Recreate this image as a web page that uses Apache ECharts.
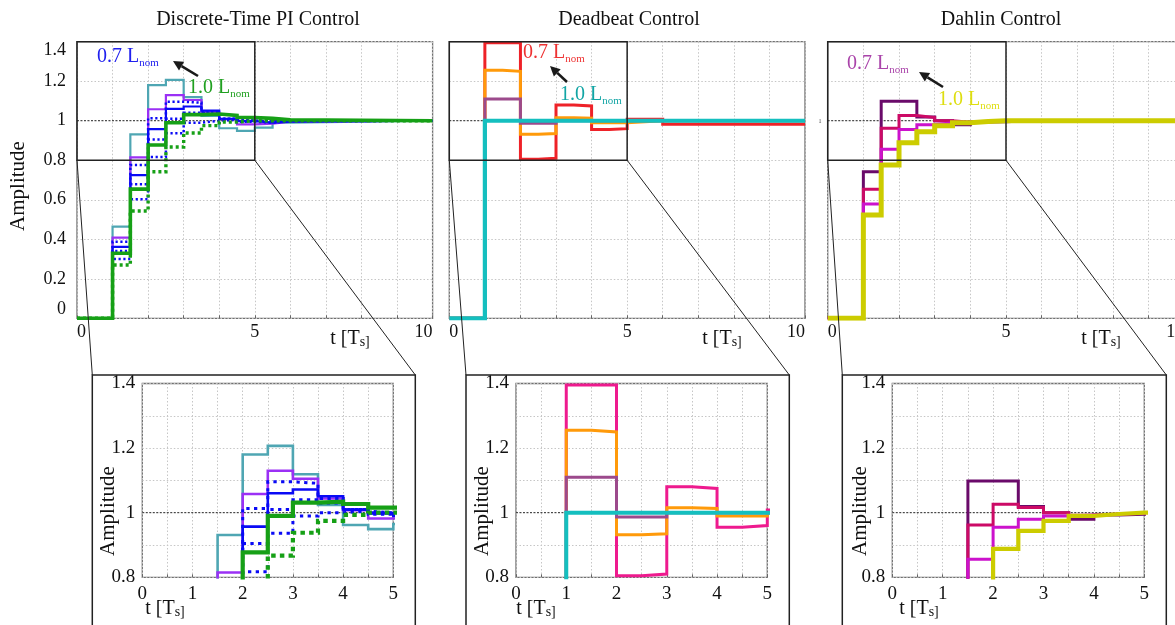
<!DOCTYPE html>
<html>
<head>
<meta charset="utf-8">
<script src="https://cdn.jsdelivr.net/npm/echarts@6.0.0/dist/echarts.min.js"></script>
<style>
  html, body { margin: 0; padding: 0; background: #fff; }
  #chart { width: 1175px; height: 625px; }
</style>
</head>
<body>
<div id="chart"></div>
<script>
// ---- Step responses, time in sample periods T_s ----

// Discrete-time PI control (inductance from 0.7 L_nom to 1.0 L_nom)
const piTime      = [0, 1, 1.5, 2, 2.5, 3, 3.5, 4, 4.5, 5, 5.5, 6, 10];
const piTeal      = [0, 0.464, 0.931, 1.180, 1.207, 1.119, 1.024, 0.962, 0.949, 0.965, 0.990, 1.000, 1.000];
const piPurple    = [0, 0.408, 0.815, 1.058, 1.130, 1.105, 1.044, 1.008, 0.982, 0.985, 0.995, 1.000, 1.000];
const piBlue      = [0, 0.362, 0.725, 0.957, 1.060, 1.072, 1.051, 1.010, 0.998, 0.990, 0.995, 1.000, 1.000];
const piBlueDot1  = [0, 0.388, 0.776, 1.013, 1.096, 1.091, 1.044, 1.010, 0.995, 0.990, 0.998, 1.000, 1.000];
const piBlueDot2  = [0, 0.341, 0.678, 0.905, 1.010, 1.040, 1.030, 1.010, 1.000, 0.995, 1.000, 1.000, 1.000];
const piBlueDot3  = [0, 0.300, 0.602, 0.817, 0.936, 0.990, 1.000, 1.005, 1.000, 1.000, 1.000, 1.000, 1.000];
const piGreen     = [0, 0.329, 0.654, 0.877, 0.990, 1.031, 1.034, 1.027, 1.016, 1.012, 1.005, 1.000, 1.000];
const piGreenDot  = [0, 0.270, 0.543, 0.742, 0.867, 0.938, 0.975, 0.993, 1.000, 1.000, 1.000, 1.000, 1.000];

// Deadbeat control
const dbTime   = [0, 1, 1.5, 2, 2.5, 3, 3.5, 4, 4.5, 5, 6, 10];
const dbRed    = [0, 1.395, 1.395, 0.805, 0.810, 1.080, 1.075, 0.955, 0.960, 1.008, 0.982, 0.982];
const dbOrange = [0, 1.255, 1.250, 0.932, 0.935, 1.015, 1.013, 0.990, 0.990, 1.000, 1.000, 1.000];
const dbMauve  = [0, 1.110, 1.110, 0.987, 0.987, 1.000, 1.000, 1.000, 1.000, 1.000, 1.000, 1.000];
const dbCyan   = [0, 1, 1, 1, 1, 1, 1, 1, 1, 1, 1, 1];

// Dahlin control
const dhTime    = [0, 1, 1.5, 2, 2.5, 3, 3.5, 4, 4.5, 5, 5.5, 6, 10];
const dhPlum    = [0, 0.742, 1.098, 1.098, 1.019, 1.000, 0.980, 0.993, 0.995, 0.998, 1.000, 1.000, 1.000];
const dhCrimson = [0, 0.653, 0.962, 1.026, 1.016, 1.000, 0.992, 0.995, 0.998, 1.000, 1.000, 1.000, 1.000];
const dhMagenta = [0, 0.579, 0.856, 0.955, 0.980, 0.990, 0.993, 0.996, 0.998, 1.000, 1.000, 1.000, 1.000];
const dhYellow  = [0, 0.523, 0.776, 0.888, 0.944, 0.975, 0.990, 0.996, 1.000, 1.000, 1.000, 1.000, 1.000];

// Setpoint reference
const refTime = [0, 10];
const refVal  = [1, 1];

// Axis ranges and tick steps
const mainX = { min: 0, max: 10, step: 1 };
const mainY = { min: 0, max: 1.4, step: 0.2 };
const zoomX = { min: 0, max: 5, step: 0.5 };
const zoomY = { min: 0.8, max: 1.4, step: 0.1 };

const titles = ['Discrete-Time PI Control', 'Deadbeat Control', 'Dahlin Control'];

// ---- Layout ----
const FONT = '"Liberation Serif", "Times New Roman", serif';
const mainGrids = [
  { left: 77,    top: 41.7, width: 355.6, height: 276.6 },
  { left: 449.3, top: 41.7, width: 355.7, height: 276.6 },
  { left: 827.7, top: 41.7, width: 356.6, height: 276.6 }   // runs past the right edge
];
const zoomGrids = [
  { left: 142.3, top: 383.5, width: 251,   height: 193.8 },
  { left: 516,   top: 383.5, width: 251.3, height: 193.8 },
  { left: 892.3, top: 383.5, width: 252,   height: 193.8 }
];

const chart = echarts.init(document.getElementById('chart'), null, { renderer: 'canvas' });

const grids = mainGrids.concat(zoomGrids).map(g => Object.assign({
  show: true, borderColor: '#707070', borderWidth: 1.3, backgroundColor: 'transparent',
  containLabel: false, outerBoundsMode: 'none'
}, g));

const gridLine = { show: true, lineStyle: { color: '#c6c6c6', type: [1.5, 2], width: 1 } };

function xAxisFor(gi, r, zoom) {
  return {
    type: 'value', gridIndex: gi, min: r.min, max: r.max, interval: r.step,
    axisLine: { show: false },
    axisTick: { show: true, inside: true, length: 3, lineStyle: { color: '#666' } },
    splitLine: gridLine,
    axisLabel: {
      show: true, fontFamily: FONT, fontSize: zoom ? 19 : 18, color: '#111',
      margin: zoom ? 7 : 5,
      alignMinLabel: zoom ? 'center' : 'left', alignMaxLabel: zoom ? 'center' : 'right',
      formatter: v => {
        const k = Math.round(v * 10);
        if (zoom) return k % 10 === 0 ? String(k / 10) : '';
        return k % 50 === 0 ? String(k / 10) : '';
      }
    }
  };
}
function yAxisFor(gi, r, zoom, showLabels) {
  return {
    type: 'value', gridIndex: gi, min: r.min, max: r.max, interval: r.step,
    axisLine: { show: false },
    axisTick: { show: false },
    splitLine: gridLine,
    axisLabel: {
      show: showLabels, fontFamily: FONT, fontSize: zoom ? 19 : 18, color: '#111',
      margin: zoom ? 7 : 11,
      verticalAlignMinLabel: zoom ? 'middle' : 'bottom',
      verticalAlignMaxLabel: zoom ? 'middle' : 'top',
      formatter: v => {
        const k = Math.round(v * 10);
        if (zoom) return k % 2 === 0 ? String(k / 10) : '';
        return String(k / 10);
      }
    }
  };
}

const xAxes = [0, 1, 2].map(i => xAxisFor(i, mainX, false))
  .concat([3, 4, 5].map(i => xAxisFor(i, zoomX, true)));
const yAxes = [0, 1, 2].map(i => yAxisFor(i, mainY, false, i === 0))
  .concat([3, 4, 5].map(i => yAxisFor(i, zoomY, true, true)));

function pairs(ts, vs) { return ts.map((t, i) => [t, vs[i]]); }

function stepSeries(gi, ts, vs, color, width, dash) {
  return {
    type: 'line', xAxisIndex: gi, yAxisIndex: gi, step: 'end',
    data: pairs(ts, vs), symbol: 'none', silent: true, clip: true,
    lineStyle: { color, width, type: dash || 'solid', cap: 'butt', join: 'miter' }
  };
}
function refSeries(gi) {
  return {
    type: 'line', xAxisIndex: gi, yAxisIndex: gi, data: pairs(refTime, refVal),
    symbol: 'none', silent: true,
    lineStyle: { color: '#2a2a2a', width: 1, type: [2, 1.5] }
  };
}

const C = {
  teal: '#4fa6b3', purple: '#9b30f5', blue: '#0a0af5', green: '#16a016',
  red: '#ee2228', orange: '#ff9a0a', mauve: '#9c4a8c', cyan: '#14bfbf', pink: '#ee1a8e',
  plum: '#6a0a6a', crimson: '#cc0a66', magenta: '#cc12cc', yellow: '#cccc00'
};

const series = [];
[0, 3].forEach(gi => {
  const z = gi === 3;
  series.push(refSeries(gi));
  series.push(stepSeries(gi, piTime, piTeal, C.teal, z ? 2.6 : 2.2));
  series.push(stepSeries(gi, piTime, piPurple, C.purple, z ? 2.6 : 2.2));
  series.push(stepSeries(gi, piTime, piBlue, C.blue, z ? 2.6 : 2.2));
  series.push(stepSeries(gi, piTime, piBlueDot1, C.blue, z ? 3 : 2.5, z ? [3.3, 4.4] : [2.2, 2.6]));
  series.push(stepSeries(gi, piTime, piBlueDot2, C.blue, z ? 3 : 2.5, z ? [3.3, 4.4] : [2.2, 2.6]));
  series.push(stepSeries(gi, piTime, piBlueDot3, C.blue, z ? 3 : 2.5, z ? [3.3, 4.4] : [2.2, 2.6]));
  series.push(stepSeries(gi, piTime, piGreen, C.green, z ? 4.2 : 3.6));
  series.push(stepSeries(gi, piTime, piGreenDot, C.green, z ? 4.2 : 3.4, z ? [4.5, 4.2] : [3, 3]));
});
[1, 4].forEach(gi => {
  const z = gi === 4;
  series.push(refSeries(gi));
  series.push(stepSeries(gi, dbTime, dbRed, z ? C.pink : C.red, 3));
  series.push(stepSeries(gi, dbTime, dbOrange, C.orange, 3));
  series.push(stepSeries(gi, dbTime, dbMauve, C.mauve, 3));
  series.push(stepSeries(gi, dbTime, dbCyan, C.cyan, z ? 4 : 4.2));
});
[2, 5].forEach(gi => {
  const z = gi === 5;
  series.push(refSeries(gi));
  series.push(stepSeries(gi, dhTime, dhPlum, C.plum, 3));
  series.push(stepSeries(gi, dhTime, dhCrimson, C.crimson, 3));
  series.push(stepSeries(gi, dhTime, dhMagenta, C.magenta, 3));
  series.push(stepSeries(gi, dhTime, dhYellow, C.yellow, z ? 4.2 : 5));
});

chart.setOption({
  animation: false,
  backgroundColor: '#fff',
  grid: grids,
  xAxis: xAxes,
  yAxis: yAxes,
  series: series
});

// ---- Decorations: titles, axis names, zoom boxes, annotations ----
function txt(x, y, text, size, opts) {
  return Object.assign({
    type: 'text', x, y, z: 120,
    style: Object.assign({
      text, fontFamily: FONT, fontSize: size, fill: '#111',
      align: 'center', verticalAlign: 'middle', textAlign: 'center', textVerticalAlign: 'middle'
    }, (opts && opts.style) || {})
  }, (opts && opts.el) || {});
}
function subText(x, y, main, sub, size, subSize, color, drop, align) {
  return {
    type: 'text', x, y, z: 120,
    style: {
      text: '{a|' + main + '}{b|' + sub + '}',
      align: align || 'left', textAlign: align || 'left',
      verticalAlign: 'middle', textVerticalAlign: 'middle',
      rich: {
        a: { fontFamily: FONT, fontSize: size, fill: color, color: color },
        b: { fontFamily: FONT, fontSize: subSize, fill: color, color: color, padding: [drop, 0, 0, 0] }
      }
    }
  };
}
function arrow(x1, y1, x2, y2) {
  const a = Math.atan2(y2 - y1, x2 - x1), L = 10, W = 5;
  const bx = x2 - L * Math.cos(a), by = y2 - L * Math.sin(a);
  const px = -Math.sin(a) * W, py = Math.cos(a) * W;
  return [
    { type: 'line', z: 120, shape: { x1, y1, x2: bx, y2: by }, style: { stroke: '#1a1a1a', lineWidth: 2.6 } },
    { type: 'polygon', z: 120, shape: { points: [[x2, y2], [bx + px, by + py], [bx - px, by - py]] }, style: { fill: '#1a1a1a' } }
  ];
}

const g = [];
const titleX = [258, 629, 1001];
titles.forEach((t, i) => g.push(txt(titleX[i], 20, t, 20)));

// axis names
g.push(txt(18, 186, 'Amplitude', 21, { el: { rotation: Math.PI / 2 } }));
const tMain = [350, 722, 1101];
tMain.forEach(x => g.push(subText(x, 339, 't [T', 's]', 20, 14, '#111', 7, 'center')));
const tZoom = [165, 536, 919];
tZoom.forEach(x => g.push(subText(x, 609, 't [T', 's]', 20, 14, '#111', 7, 'center')));
const ampZoom = [108, 482, 860];
ampZoom.forEach(x => g.push(txt(x, 511, 'Amplitude', 21, { el: { rotation: Math.PI / 2 } })));

// small setpoint tick text on the Dahlin axis
g.push(txt(820, 121, '1', 6, { style: { fill: '#444' } }));

// zoom rectangles and connectors
for (let i = 0; i < 3; i++) {
  const tl = chart.convertToPixel({ gridIndex: i }, [zoomX.min, zoomY.max]);
  const br = chart.convertToPixel({ gridIndex: i }, [zoomX.max, zoomY.min]);
  const bl = [tl[0], br[1]];
  g.push({ type: 'rect', z: 110, shape: { x: tl[0], y: tl[1], width: br[0] - tl[0], height: br[1] - tl[1] },
    style: { fill: 'none', stroke: '#222', lineWidth: 1.5 } });
  const zg = zoomGrids[i];
  const fx1 = zg.left - 50, fx2 = zg.left + zg.width + 22, fy = zg.top - 8.5;
  g.push({ type: 'rect', z: 110, shape: { x: fx1, y: fy, width: fx2 - fx1, height: 400 },
    style: { fill: 'none', stroke: '#222', lineWidth: 1.5 } });
  g.push({ type: 'line', z: 110, shape: { x1: bl[0], y1: bl[1], x2: fx1, y2: fy }, style: { stroke: '#222', lineWidth: 1 } });
  g.push({ type: 'line', z: 110, shape: { x1: br[0], y1: br[1], x2: fx2, y2: fy }, style: { stroke: '#222', lineWidth: 1 } });
}

// family annotations
g.push(subText(97, 57, '0.7 L', 'nom', 20, 11, '#2020ee', 12));
g.push(subText(188, 88, '1.0 L', 'nom', 20, 11, '#20a020', 12));
g.push(...arrow(198, 76, 173, 61));
g.push(subText(523, 53, '0.7 L', 'nom', 20, 11, '#ee3333', 12));
g.push(subText(560, 95, '1.0 L', 'nom', 20, 11, '#12a5a5', 12));
g.push(...arrow(567, 82, 550, 66));
g.push(subText(847, 64, '0.7 L', 'nom', 20, 11, '#aa44aa', 12));
g.push(subText(938, 100, '1.0 L', 'nom', 20, 11, '#dede10', 12));
g.push(...arrow(943, 87, 919, 72));

chart.setOption({ graphic: { elements: g } });
</script>
</body>
</html>
